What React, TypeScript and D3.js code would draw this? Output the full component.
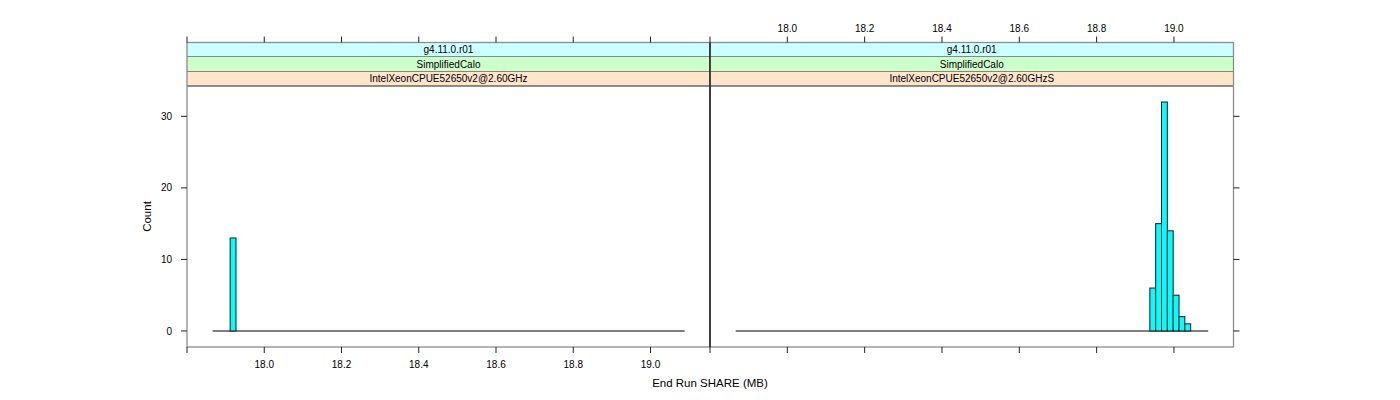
import React from "react";
import * as d3 from "d3";

// ---- data ----
const stripTop = "g4.11.0.r01";
const stripMid = "SimplifiedCalo";
const panelNames = ["IntelXeonCPUE52650v2@2.60GHz", "IntelXeonCPUE52650v2@2.60GHzS"];
const xTickValues = [17.8, 18.0, 18.2, 18.4, 18.6, 18.8, 19.0];
const xTickLabels = ["", "18.0", "18.2", "18.4", "18.6", "18.8", "19.0"];
const yTickValues = [0, 10, 20, 30];
const binLo = 17.8665;
const binHi = 19.0885;
const binCount = 81;
const panelABins = [3];
const panelACounts = [13];
const panelBBins = [71, 72, 73, 74, 75, 76, 77];
const panelBCounts = [6, 15, 32, 14, 5, 2, 1];
const xDomain = [17.8, 19.154];
const yDomain = [-2.24, 34.24];

const W = 1400, H = 400;
const panelX = [[187, 710], [710, 1233.5]];
const plotTop = 86, plotBottom = 347, stripTopY = 42.5;
const stripH = (plotTop - stripTopY) / 3;
const font = "'Liberation Sans', Arial, Helvetica, sans-serif";

export default function App() {
  const y = d3.scaleLinear().domain(yDomain).range([plotBottom, plotTop]);
  const binW = (binHi - binLo) / binCount;
  const panelData = [
    { bins: panelABins, counts: panelACounts },
    { bins: panelBBins, counts: panelBCounts },
  ];
  const stripColors = ["#CCFFFF", "#CCFFCC", "#FFE5CC"];

  return (
    <svg width={W} height={H} style={{ position: "absolute", left: 0, top: 0, background: "#fff" }}
      fontFamily={font}>
      {panelX.map(([x0, x1], p) => {
        const x = d3.scaleLinear().domain(xDomain).range([x0, x1]);
        const { bins, counts } = panelData[p];
        const stripLabels = [stripTop, stripMid, panelNames[p]];
        return (
          <g key={p}>
            {/* strips */}
            {stripLabels.map((s, i) => (
              <g key={i}>
                <rect x={x0} y={stripTopY + i * stripH} width={x1 - x0} height={stripH}
                  fill={stripColors[i]} />
                <line x1={x0} x2={x1} y1={stripTopY + (i + 1) * stripH} y2={stripTopY + (i + 1) * stripH}
                  stroke="#222" strokeWidth={1} />
                <text x={(x0 + x1) / 2} y={stripTopY + i * stripH + stripH / 2 + 3.6}
                  fontSize={10} textAnchor="middle" fill="#000">{s}</text>
              </g>
            ))}
            {/* baseline of empty bins */}
            <line x1={x(binLo)} x2={x(binHi)} y1={y(0)} y2={y(0)} stroke="#555" strokeWidth={1.6} />
            {/* bars */}
            {bins.map((b, i) => (
              <rect key={i} x={x(binLo + b * binW)} y={y(counts[i])}
                width={x(binLo + (b + 1) * binW) - x(binLo + b * binW)}
                height={y(0) - y(counts[i])}
                fill="#00FFFF" stroke="#1a1a1a" strokeWidth={1} />
            ))}
            {/* panel frame */}
            <rect x={x0} y={stripTopY} width={x1 - x0} height={plotBottom - stripTopY}
              fill="none" stroke="#8c8c8c" strokeWidth={1.3} />
            {/* x ticks top & bottom */}
            {xTickValues.map((v, i) => (
              <g key={i}>
                <line x1={x(v)} x2={x(v)} y1={stripTopY} y2={stripTopY - 6} stroke="#222" />
                <line x1={x(v)} x2={x(v)} y1={plotBottom} y2={plotBottom + 6} stroke="#222" />
                {p === 0 && (
                  <text x={x(v)} y={368} fontSize={10} textAnchor="middle">{xTickLabels[i]}</text>
                )}
                {p === 1 && (
                  <text x={x(v)} y={32} fontSize={10} textAnchor="middle">{xTickLabels[i]}</text>
                )}
              </g>
            ))}
            {/* y ticks */}
            {yTickValues.map((v, i) => (
              p === 0 ? (
                <g key={i}>
                  <line x1={x0 - 6} x2={x0} y1={y(v)} y2={y(v)} stroke="#222" />
                  <text x={x0 - 15} y={y(v) + 3.6} fontSize={10} textAnchor="end">{v}</text>
                </g>
              ) : (
                <line key={i} x1={x1} x2={x1 + 6} y1={y(v)} y2={y(v)} stroke="#222" />
              )
            ))}
          </g>
        );
      })}
      {/* divider */}
      <line x1={710} x2={710} y1={stripTopY} y2={plotBottom} stroke="#000" strokeWidth={1.2} />
      {/* axis titles */}
      <text x={710} y={387} fontSize={11.5} textAnchor="middle">End Run SHARE (MB)</text>
      <text transform={`translate(151, ${(plotTop + plotBottom) / 2}) rotate(-90)`} fontSize={11.5}
        textAnchor="middle">Count</text>
    </svg>
  );
}
